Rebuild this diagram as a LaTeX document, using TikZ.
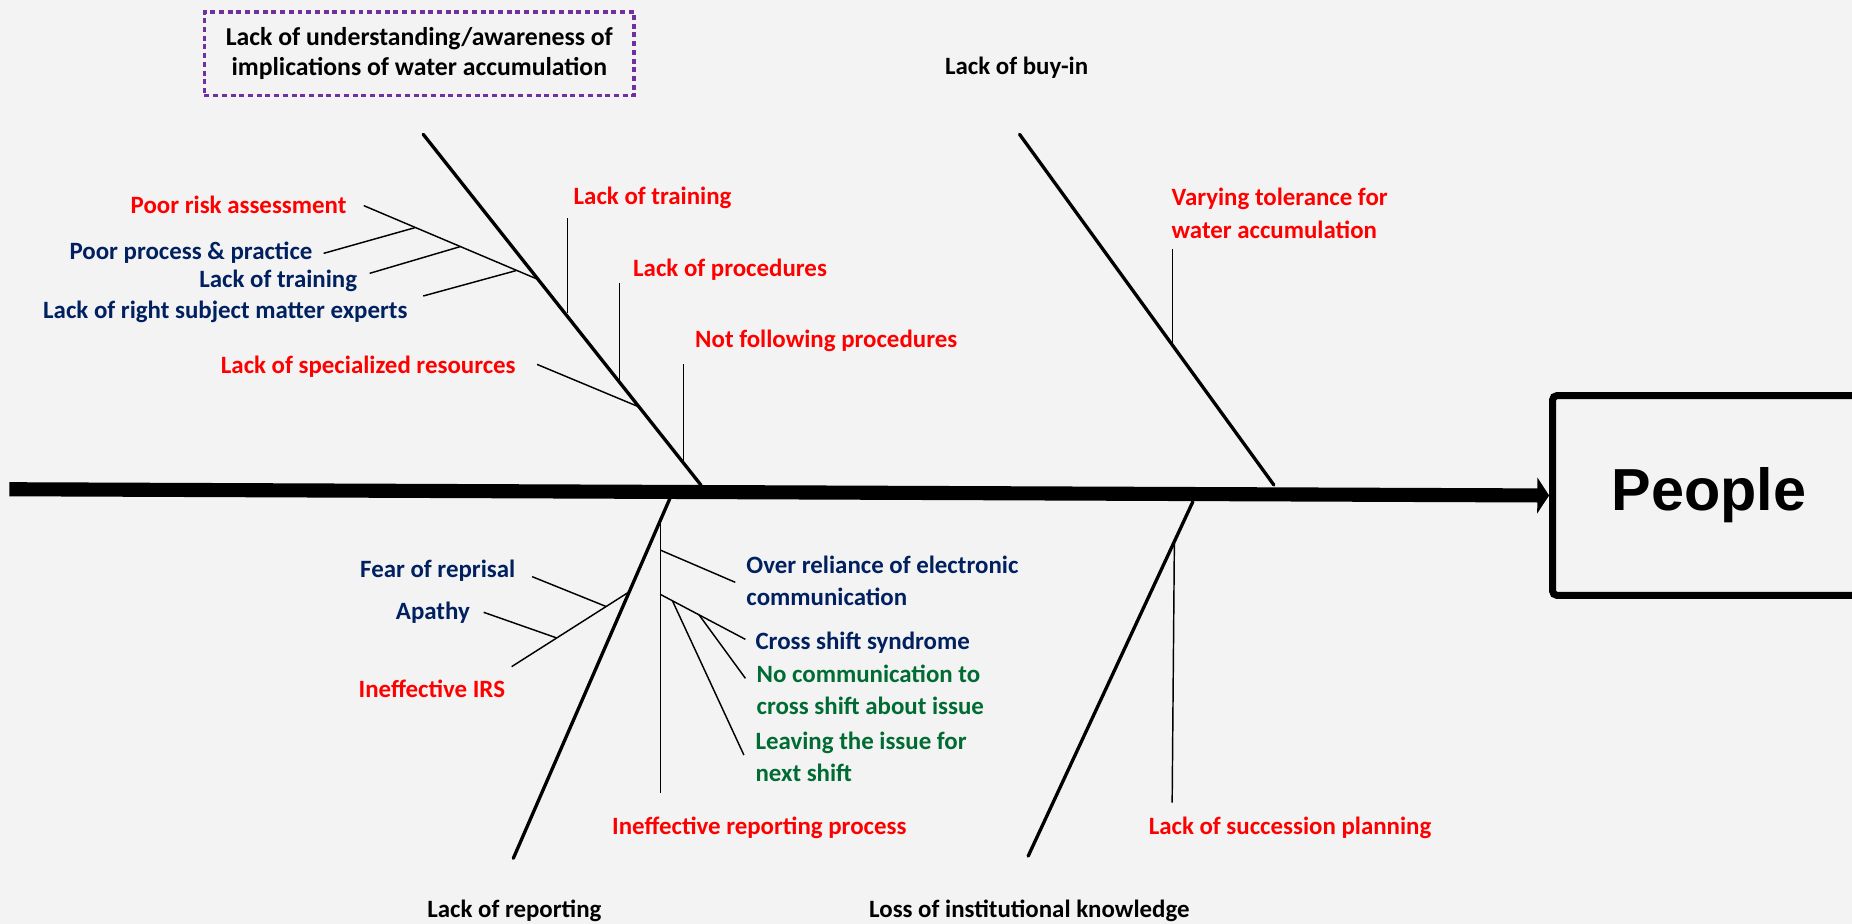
\documentclass[tikz,border=0pt]{standalone}
\usepackage{fontspec}
\setmainfont{Carlito}
\newfontfamily\arialfont{Liberation Sans}
\usetikzlibrary{arrows.meta}
\definecolor{bg}{HTML}{F3F3F3}
\definecolor{lred}{HTML}{FF0000}
\definecolor{lblue}{HTML}{002060}
\definecolor{lgreen}{HTML}{006B33}
\definecolor{lpurple}{HTML}{7030A0}
\tikzset{
  lbl/.style={font=\bfseries\fontsize{12}{15.6}\selectfont, inner sep=0pt, outer sep=0pt},
  one/.style={lbl, text height=0.7em, text depth=0.2em, yshift=-1.3pt},
  redl/.style={one, text=lred},
  bluel/.style={one, text=lblue},
  blackl/.style={one, text=black},
  multi/.style={lbl, align=left},
  bone/.style={line width=1.6pt, line cap=round},
  twig/.style={line width=0.7pt},
  spine/.style={line width=6.8pt, -{Triangle[length=0.2cm, width=0.6cm]}},
}
\begin{document}
\begin{tikzpicture}[x=0.02cm, y=-0.02cm]
\fill[bg] (0,0) rectangle (1568,782);
\useasboundingbox (0,0) rectangle (1568,782);
\clip (0,0) rectangle (1568,782);

% effect box
\node[draw=lpurple, line width=1.7pt, dash pattern=on 2.4pt off 1.8pt,
      minimum width=7.28cm, minimum height=1.42cm, align=center,
      font=\bfseries\fontsize{12.4}{14.5}\selectfont, inner sep=0pt]
  (aware) at (355,45.5) {Lack of understanding/awareness of\\implications of water accumulation};

% head
\node[draw, line width=3.4pt, rounded corners=2pt, minimum width=5.3cm, minimum height=3.38cm,
      font=\arialfont\bfseries\fontsize{28.6}{32}\selectfont, inner sep=0pt, outer sep=0.5\pgflinewidth]
  (people) at (1447,419.5) {People};

% spine
\coordinate (spL) at (8,414.2);
\draw[spine] (spL) -- (people.west);

% category labels
\node[blackl] (buyin) at (860.7,56.4) {Lack of buy-in};
\node[blackl] (reporting) at (435.5,770.5) {Lack of reporting};
\node[blackl] (loss) at (871.5,770.5) {Loss of institutional knowledge};

% bones
\coordinate (ulT) at (358.3,113.7); \coordinate (ulB) at (593.4,410.6);
\coordinate (urT) at (863.2,113.7); \coordinate (urB) at (1078.5,410.6);
\coordinate (llT) at (567.2,421.9); \coordinate (llB) at (434.6,726.7);
\coordinate (lrT) at (1009.9,424.8); \coordinate (lrB) at (870.5,724.8);
\draw[bone] (ulT) -- (ulB);
\draw[bone] (urT) -- (urB);
\draw[bone] (llT) -- (llB);
\draw[bone] (lrT) -- (lrB);

% upper-left causes
\node[redl, anchor=west] (ltr) at (485.7,166.5) {Lack of training};
\node[redl, anchor=west] (lproc) at (536.1,227.2) {Lack of procedures};
\node[redl, anchor=west] (nfp) at (588.6,287.3) {Not following procedures};
\node[redl, anchor=east] (lsr) at (436.6,309.9) {Lack of specialized resources};
\node[redl, anchor=east] (pra) at (293.3,174.1) {Poor risk assessment};
\node[bluel, anchor=east] (ppp) at (264.6,213.1) {Poor process \& practice};
\node[bluel, anchor=east] (ltb) at (302.3,237) {Lack of training};
\node[bluel, anchor=east] (sme) at (345.1,263.3) {Lack of right subject matter experts};

\coordinate (c1a) at (480.4,184.8); \coordinate (c1b) at (480.4,265.3);
\coordinate (c2a) at (524.6,239.9); \coordinate (c2b) at (524.6,323.2);
\coordinate (c3a) at (578.9,308.5); \coordinate (c3b) at (578.9,390.9);
\coordinate (c4a) at (454.7,308.5); \coordinate (c4b) at (540.5,344.3);
\coordinate (c5a) at (308,174.1);   \coordinate (c5b) at (455.3,236.5);
\coordinate (p1a) at (274,214.5);   \coordinate (p1b) at (351.5,192.7);
\coordinate (p2a) at (313,231.4);   \coordinate (p2b) at (389.3,208.9);
\coordinate (p3a) at (358.3,250.6); \coordinate (p3b) at (436.6,229.2);
\draw[twig] (c1a) -- (c1b);
\draw[twig] (c2a) -- (c2b);
\draw[twig] (c3a) -- (c3b);
\draw[twig] (c4a) -- (c4b);
\draw[twig] (c5a) -- (c5b);
\draw[twig] (p1a) -- (p1b);
\draw[twig] (p2a) -- (p2b);
\draw[twig] (p3a) -- (p3b);

% upper-right causes
\node[multi, text=lred, anchor=west] (vary) at (992,180.6) {Varying tolerance for\\water accumulation};
\coordinate (v1a) at (992.5,211.1); \coordinate (v1b) at (992.5,292);
\draw[twig] (v1a) -- (v1b);

% lower-left causes
\node[redl, anchor=west] (irp) at (518.3,700) {Ineffective reporting process};
\node[redl, anchor=west] (irs) at (303.7,583.6) {Ineffective IRS};
\node[bluel, anchor=west] (fear) at (305,482) {Fear of reprisal};
\node[bluel, anchor=west] (apathy) at (335.2,517.9) {Apathy};
\node[multi, text=lblue, anchor=west] (over) at (632,492) {Over reliance of electronic\\communication};
\node[bluel, anchor=west] (cross) at (639.7,543.3) {Cross shift syndrome};
\node[multi, text=lgreen, anchor=west] (nocomm) at (640.6,583.8) {No communication to\\cross shift about issue};
\node[multi, text=lgreen, anchor=west] (leave) at (639.7,640.6) {Leaving the issue for\\next shift};

\coordinate (rpa) at (559,440.3);   \coordinate (rpb) at (559,671.7);
\coordinate (ora) at (559,465.7);   \coordinate (orb) at (622.5,493);
\coordinate (csa) at (559,503.2);   \coordinate (csb) at (631.1,541.3);
\coordinate (nca) at (591.8,520.5); \coordinate (ncb) at (631.1,574.3);
\coordinate (lva) at (569.3,508.6); \coordinate (lvb) at (629.8,639.2);
\coordinate (ira) at (433.2,564.4); \coordinate (irb) at (532.8,501);
\coordinate (fra) at (450.5,488.2); \coordinate (frb) at (513.2,513.5);
\coordinate (apa) at (409.5,518.4); \coordinate (apb) at (471.3,540.1);
\draw[twig] (rpa) -- (rpb);
\draw[twig] (ora) -- (orb);
\draw[twig] (csa) -- (csb);
\draw[twig] (nca) -- (ncb);
\draw[twig] (lva) -- (lvb);
\draw[twig] (ira) -- (irb);
\draw[twig] (fra) -- (frb);
\draw[twig] (apa) -- (apb);

% lower-right causes
\node[redl, anchor=west] (succ) at (972.6,700) {Lack of succession planning};
\coordinate (spa) at (994.3,457.2); \coordinate (spb) at (992.4,679.6);
\draw[twig] (spa) -- (spb);
\end{tikzpicture}
\end{document}
